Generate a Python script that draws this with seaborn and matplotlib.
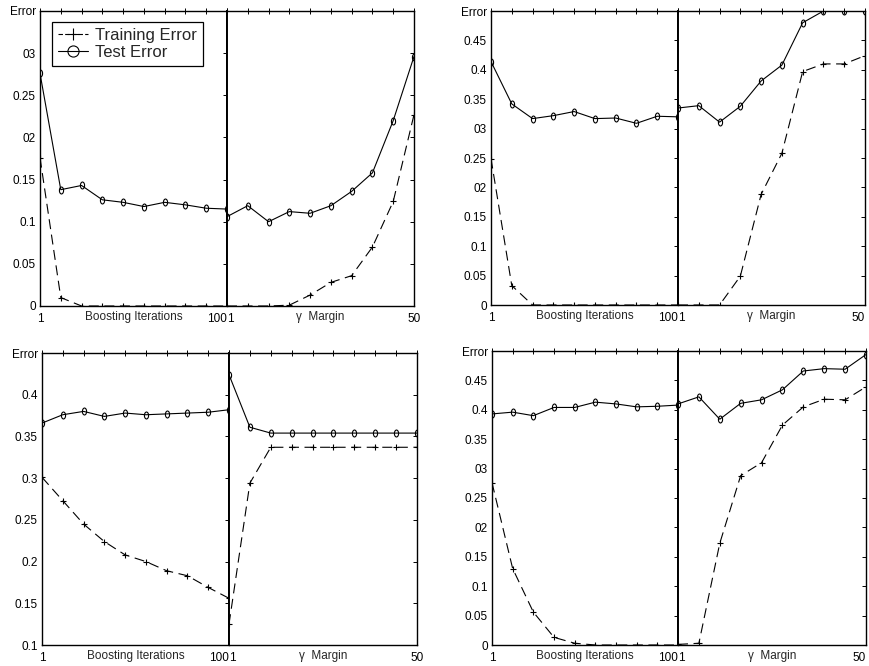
import matplotlib
matplotlib.use("Agg")
import matplotlib.pyplot as plt
from matplotlib.lines import Line2D
from matplotlib.path import Path
from matplotlib.transforms import Affine2D
import seaborn as sns

# ten evaluation points on each half of every panel
positions = list(range(10))
boost_ticks = ["1", "", "", "", "", "", "", "", "", "100"]
margin_ticks = ["1", "", "", "", "", "", "", "", "", "50"]

# panel A (top left)
a_train_boost = [0.176, 0.010, 0.0, 0.0, 0.0, 0.0, 0.0, 0.0, 0.0, 0.0]
a_test_boost = [0.276, 0.138, 0.143, 0.126, 0.123, 0.118, 0.123, 0.120, 0.116, 0.115]
a_train_margin = [0.0, 0.0, 0.0, 0.001, 0.013, 0.028, 0.036, 0.070, 0.124, 0.227]
a_test_margin = [0.106, 0.119, 0.100, 0.112, 0.110, 0.119, 0.136, 0.158, 0.220, 0.296]
a_yticks = [0, 0.05, 0.1, 0.15, 0.2, 0.25, 0.3, 0.35]
a_ylabels = ["0", "0.05", "0.1", "0.15", "02", "0.25", "03", "Error"]

# panel B (top right)
b_train_boost = [0.249, 0.033, 0.0, 0.0, 0.0, 0.0, 0.0, 0.0, 0.0, 0.0]
b_test_boost = [0.414, 0.342, 0.317, 0.322, 0.329, 0.317, 0.318, 0.309, 0.321, 0.320]
b_train_margin = [0.0, 0.0, 0.0, 0.049, 0.188, 0.258, 0.397, 0.410, 0.410, 0.424]
b_test_margin = [0.335, 0.339, 0.311, 0.338, 0.381, 0.408, 0.480, 0.500, 0.500, 0.500]
b_yticks = [0, 0.05, 0.1, 0.15, 0.2, 0.25, 0.3, 0.35, 0.4, 0.45, 0.5]
b_ylabels = ["0", "0.05", "0.1", "0.15", "02", "0.25", "03", "0.35", "0.4", "0.45", "Error"]

# panel C (bottom left)
c_train_boost = [0.301, 0.273, 0.245, 0.224, 0.208, 0.200, 0.189, 0.183, 0.169, 0.156]
c_test_boost = [0.366, 0.376, 0.380, 0.374, 0.378, 0.376, 0.377, 0.378, 0.379, 0.382]
c_train_margin = [0.125, 0.294, 0.337, 0.337, 0.337, 0.337, 0.337, 0.337, 0.337, 0.337]
c_test_margin = [0.424, 0.361, 0.354, 0.354, 0.354, 0.354, 0.354, 0.354, 0.354, 0.354]
c_yticks = [0.1, 0.15, 0.2, 0.25, 0.3, 0.35, 0.4, 0.45]
c_ylabels = ["0.1", "0.15", "0.2", "0.25", "0.3", "0.35", "0.4", "Error"]

# panel D (bottom right)
d_train_boost = [0.276, 0.130, 0.056, 0.013, 0.003, 0.0, 0.0, 0.0, 0.0, 0.0]
d_test_boost = [0.393, 0.396, 0.390, 0.404, 0.404, 0.413, 0.410, 0.405, 0.406, 0.408]
d_train_margin = [0.001, 0.003, 0.173, 0.288, 0.310, 0.374, 0.405, 0.418, 0.417, 0.439]
d_test_margin = [0.410, 0.422, 0.384, 0.411, 0.417, 0.434, 0.466, 0.470, 0.469, 0.494]
d_yticks = b_yticks
d_ylabels = ["0", "0.05", "0.1", "0.15", "02", "0.25", "03", "0.35", "0.4", "0.45", "Error"]

sns.set_theme(style="white")
plt.rcParams["font.family"] = ["Liberation Sans", "DejaVu Sans"]
plt.rcParams["axes.edgecolor"] = "black"

W, H = 870, 666
fig = plt.figure(figsize=(W / 100, H / 100), dpi=100)

oval = Path.unit_circle().transformed(Affine2D().scale(0.6, 1.0))


def px_axes(x0, x1, top, bottom):
    return fig.add_axes([x0 / W, 1 - bottom / H, (x1 - x0) / W, (bottom - top) / H])


def draw_half(ax, train, test, ylim, yticks, xticks, xlabel):
    sns.lineplot(x=positions, y=train, ax=ax, color="black", lw=0.8,
                 linestyle=(0, (9, 5)), marker="+", markersize=5,
                 markeredgecolor="black", markeredgewidth=0.8)
    sns.lineplot(x=positions, y=test, ax=ax, color="black", lw=0.8,
                 marker=oval, markersize=5, markerfacecolor="none",
                 markeredgecolor="black", markeredgewidth=0.8)
    ax.set_xlim(0, 9)
    ax.set_ylim(*ylim)
    ax.set_yticks(yticks)
    ax.set_xticks(positions)
    ax.set_xticklabels(xticks)
    ax.tick_params(axis="both", direction="in", top=True, right=True,
                   length=3, width=0.7, labelsize=8.5, pad=3, colors="black")
    ax.tick_params(axis="x", which="both", direction="inout", length=4)
    ax.set_xlabel(xlabel, fontsize=8.5)
    ax.xaxis.set_label_coords(0.5, -0.017)
    ax.xaxis.label.set_va("top")
    for sp in ax.spines.values():
        sp.set_linewidth(1.0)
        sp.set_color("black")


def draw_panel(box, ylim, yticks, ylabels, train_b, test_b, train_m, test_m,
               legend=False, edge=False):
    x0, xm, x1, top, bottom = box
    axl = px_axes(x0, xm, top, bottom)
    axr = px_axes(xm, x1, top, bottom)
    draw_half(axl, train_b, test_b, ylim, yticks, boost_ticks, "Boosting Iterations")
    draw_half(axr, train_m, test_m, ylim, yticks, margin_ticks, "\u03b3  Margin")
    axl.set_yticklabels(ylabels)
    axr.set_yticklabels([])
    axl.get_xticklabels()[-1].set_ha("right")
    axr.get_xticklabels()[0].set_ha("left")
    if edge:
        # keep the last tick label inside the figure
        axr.get_xticklabels()[-1].set_ha("right")
    axl.spines["right"].set_linewidth(1.4)
    axr.spines["left"].set_linewidth(1.4)
    if legend:
        handles = [
            Line2D([], [], color="black", lw=0.8, linestyle=(0, (4, 2)), marker="+",
                   markersize=9, markeredgewidth=0.8),
            Line2D([], [], color="black", lw=0.8, marker="o", markersize=8,
                   markerfacecolor="none", markeredgewidth=0.8),
        ]
        leg = axl.legend(handles, ["Training Error", "Test Error"], loc="upper left",
                         bbox_to_anchor=(0.064, 0.963), borderaxespad=0, fontsize=12,
                         handlelength=1.8, handletextpad=0.45, labelspacing=0.12,
                         borderpad=0.35, fancybox=False, framealpha=1, edgecolor="black")
        leg.get_frame().set_linewidth(0.9)


draw_panel((40, 227, 414, 11, 306), (0, 0.35), a_yticks, a_ylabels,
           a_train_boost, a_test_boost, a_train_margin, a_test_margin, legend=True)
draw_panel((491, 678, 865, 11, 305), (0, 0.5), b_yticks, b_ylabels,
           b_train_boost, b_test_boost, b_train_margin, b_test_margin, edge=True)
draw_panel((42, 229, 417, 353, 645), (0.1, 0.45), c_yticks, c_ylabels,
           c_train_boost, c_test_boost, c_train_margin, c_test_margin)
draw_panel((492, 678, 866, 351, 645), (0, 0.5), d_yticks, d_ylabels,
           d_train_boost, d_test_boost, d_train_margin, d_test_margin, edge=True)

fig.savefig("out.png", dpi=100)
